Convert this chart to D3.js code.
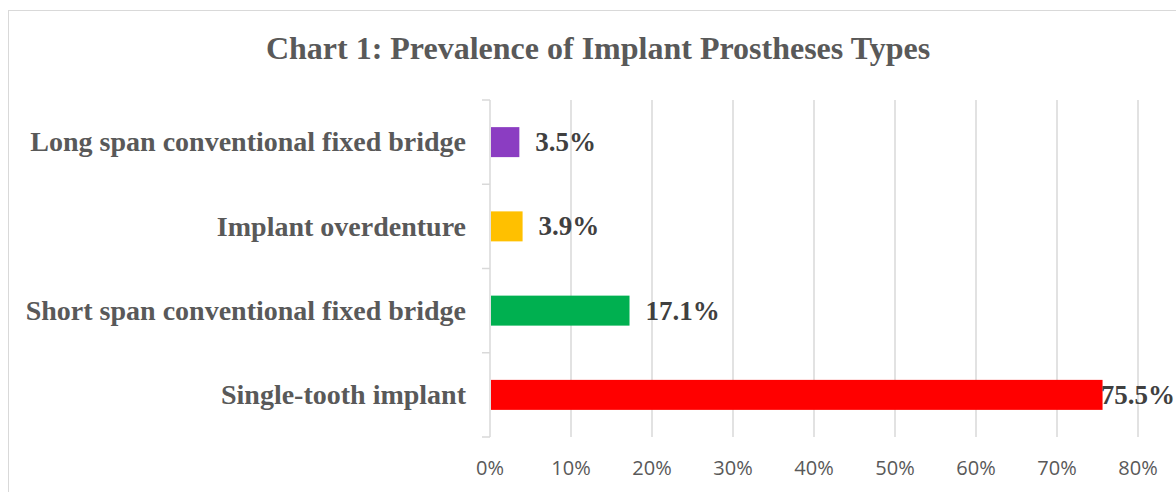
<!DOCTYPE html>
<html>
<head>
<meta charset="utf-8">
<script src="https://cdn.jsdelivr.net/npm/d3@7"></script>
<style>
  body { margin: 0; background: #fff; }
</style>
</head>
<body>
<div id="chart"></div>
<script>
const title = "Chart 1: Prevalence of Implant Prostheses Types";
const categories = [
  "Long span conventional fixed bridge",
  "Implant overdenture",
  "Short span conventional fixed bridge",
  "Single-tooth implant"
];
const values = [3.5, 3.9, 17.1, 75.5];
const colors = ["#8b3dc2", "#ffc000", "#00b050", "#ff0000"];
const tickValues = [0, 10, 20, 30, 40, 50, 60, 70, 80];

const width = 1176;
const height = 492;
const margin = { top: 100, right: 38, bottom: 55, left: 490 };

const svg = d3.select("#chart").append("svg")
  .attr("width", width)
  .attr("height", height);

// chart border (runs off the right/bottom of the picture)
svg.append("rect")
  .attr("x", 8.5).attr("y", 10.5)
  .attr("width", 1180).attr("height", 500)
  .attr("fill", "none")
  .attr("stroke", "#d9d9d9");

svg.append("text")
  .attr("x", 598)
  .attr("y", 59)
  .attr("text-anchor", "middle")
  .style("font-family", "'Liberation Serif', 'Times New Roman', serif")
  .style("font-weight", "bold")
  .style("font-size", "32px")
  .style("fill", "#595959")
  .text(title);

const x = d3.scaleLinear()
  .domain([0, 80])
  .range([margin.left, width - margin.right]);

const y = d3.scaleBand()
  .domain(categories)
  .range([margin.top, height - margin.bottom])
  .paddingInner(0.644)
  .paddingOuter(0.322);

// gridlines
svg.append("g")
  .selectAll("line")
  .data(tickValues.slice(1))
  .enter()
  .append("line")
  .attr("x1", d => x(d)).attr("x2", d => x(d))
  .attr("y1", margin.top).attr("y2", height - margin.bottom)
  .attr("stroke", "#d9d9d9")
  .attr("stroke-width", 1.5);

// x tick labels
svg.append("g")
  .selectAll("text")
  .data(tickValues)
  .enter()
  .append("text")
  .attr("x", d => x(d))
  .attr("y", 468)
  .attr("dy", "0.35em")
  .attr("text-anchor", "middle")
  .style("font-family", "'Open Sans', sans-serif")
  .style("font-size", "20px")
  .style("fill", "#595959")
  .text(d => d + "%");

// y axis with band-edge ticks
const step = y.step();
const edges = d3.range(categories.length + 1).map(i => margin.top + i * step);
const yAxis = svg.append("g");
yAxis.append("line")
  .attr("x1", x(0)).attr("x2", x(0))
  .attr("y1", margin.top).attr("y2", height - margin.bottom)
  .attr("stroke", "#d9d9d9").attr("stroke-width", 1.5);
yAxis.selectAll(".tick")
  .data(edges)
  .enter()
  .append("line")
  .attr("x1", x(0) - 8).attr("x2", x(0))
  .attr("y1", d => d).attr("y2", d => d)
  .attr("stroke", "#d9d9d9").attr("stroke-width", 1.5);

yAxis.selectAll("text")
  .data(categories)
  .enter()
  .append("text")
  .attr("x", 466)
  .attr("y", d => y(d) + y.bandwidth() / 2)
  .attr("dy", "0.33em")
  .attr("text-anchor", "end")
  .style("font-family", "'Liberation Serif', 'Times New Roman', serif")
  .style("font-weight", "bold")
  .style("font-size", "28px")
  .style("fill", "#595959")
  .text(d => d);

// bars
svg.append("g")
  .selectAll("rect")
  .data(categories)
  .enter()
  .append("rect")
  .attr("x", x(0) + 1)
  .attr("y", (d) => y(d))
  .attr("width", (d, i) => x(values[i]) - x(0))
  .attr("height", y.bandwidth())
  .attr("fill", (d, i) => colors[i]);

// value labels, pushed back inside the right edge when they would overflow
const labels = svg.append("g")
  .selectAll("text")
  .data(categories)
  .enter()
  .append("text")
  .attr("y", d => y(d) + y.bandwidth() / 2)
  .attr("dy", "0.33em")
  .style("font-family", "'Liberation Serif', 'Times New Roman', serif")
  .style("font-weight", "bold")
  .style("font-size", "27px")
  .style("fill", "#404040")
  .text((d, i) => values[i].toFixed(1) + "%");

labels.attr("x", function (d, i) {
  const w = this.getComputedTextLength();
  return Math.min(x(values[i]) + 17, width - w - 1);
});
</script>
</body>
</html>
